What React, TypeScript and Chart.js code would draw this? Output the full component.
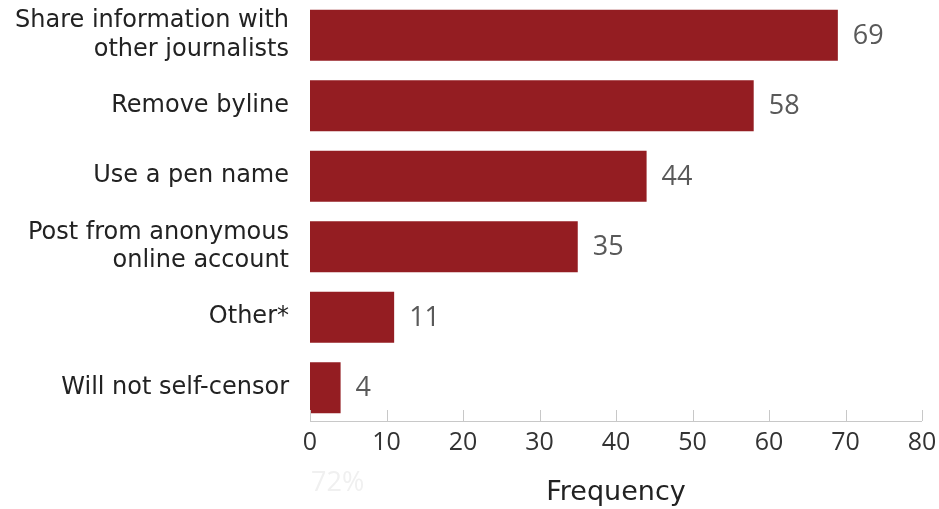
import React, { useEffect, useRef } from "react";
import { Chart, registerables } from "chart.js";

Chart.register(...registerables);

const categories: (string | string[])[] = [
  ["Share information with", "other journalists"],
  "Remove byline",
  "Use a pen name",
  ["Post from anonymous", "online account"],
  "Other*",
  "Will not self-censor",
];
const values = [69, 58, 44, 35, 11, 4];
const xTicks = [0, 10, 20, 30, 40, 50, 60, 70, 80];
const watermark = "72%";
const axisTitle = "Frequency";

const BAR = "#941d22";
const LABEL_FONT = "'DejaVu Sans', sans-serif";
const NUM_FONT = "'Open Sans', sans-serif";

const extrasPlugin = {
  id: "extras",
  afterDatasetsDraw(chart: any) {
    const ctx = chart.ctx;
    const meta = chart.getDatasetMeta(0);
    ctx.save();
    ctx.font = `27px ${NUM_FONT}`;
    ctx.fillStyle = "#595959";
    ctx.textAlign = "left";
    ctx.textBaseline = "middle";
    meta.data.forEach((bar: any, i: number) => {
      ctx.fillText(String(values[i]), bar.x + 15, bar.y + 1);
    });
    const xs = chart.scales.x;
    const area = chart.chartArea;
    const axisY = area.bottom - 2;
    ctx.strokeStyle = "#c8c8c8";
    ctx.lineWidth = 1;
    xTicks.forEach((t) => {
      const px = Math.round(xs.getPixelForValue(t)) + 0.5;
      ctx.beginPath();
      ctx.moveTo(px, axisY - 11);
      ctx.lineTo(px, axisY);
      ctx.stroke();
    });
    ctx.beginPath();
    ctx.moveTo(area.left, axisY + 0.5);
    ctx.lineTo(area.right, axisY + 0.5);
    ctx.stroke();
    ctx.font = `27px ${NUM_FONT}`;
    ctx.fillStyle = "#f0f0f0";
    ctx.textAlign = "left";
    ctx.fillText(watermark, area.left + 1, axisY + 62);
    ctx.restore();
  },
};

export default function App() {
  const ref = useRef<HTMLCanvasElement>(null);
  useEffect(() => {
    document.body.style.margin = "0";
    const chart = new Chart(ref.current!, {
      type: "bar",
      data: {
        labels: categories as any,
        datasets: [
          {
            data: values,
            backgroundColor: BAR,
            barPercentage: 0.72,
            categoryPercentage: 1,
          },
        ],
      },
      options: {
        indexAxis: "y",
        animation: false,
        responsive: false,
        layout: { padding: { top: -3, right: 17, left: 0, bottom: 0 } },
        plugins: { legend: { display: false }, tooltip: { enabled: false } },
        scales: {
          x: {
            min: 0,
            max: 80,
            afterBuildTicks: (s: any) => {
              s.ticks = xTicks.map((v) => ({ value: v }));
            },
            afterFit: (s: any) => {
              s.height = 86;
              s.paddingLeft = 0;
              s.paddingRight = 14;
            },
            grid: { display: false, drawTicks: false },
            border: { display: false },
            ticks: {
              color: "#333333",
              font: { family: NUM_FONT, size: 25 },
              padding: 5,
              maxRotation: 0,
            },
            title: {
              display: true,
              text: axisTitle,
              color: "#222222",
              font: { family: LABEL_FONT, size: 27 },
              padding: { top: 0, bottom: 0 },
            },
          },
          y: {
            afterFit: (s: any) => {
              s.width = 310;
              s.paddingTop = 0;
              s.paddingBottom = 0;
            },
            grid: { display: false, drawTicks: false },
            border: { display: false },
            ticks: {
              color: "#222222",
              font: { family: LABEL_FONT, size: 24, lineHeight: 1.2 },
              padding: 21,
            },
          },
        },
      },
      plugins: [extrasPlugin],
    });
    return () => chart.destroy();
  }, []);
  return (
    <div style={{ position: "relative", width: 939, height: 509 }}>
      <canvas ref={ref} width={939} height={509} />
    </div>
  );
}
